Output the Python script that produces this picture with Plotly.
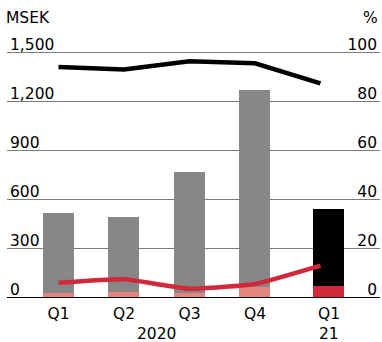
import plotly.graph_objects as go

# Data
bar_x = [0, 1, 2, 3, 4.13]
line_x = [0, 1, 2, 3, 4.0]
upper_vals = [487, 460, 738, 1207, 470]     # MSEK, gray/black part
lower_vals = [25, 30, 25, 60, 67]           # MSEK, pink/red part
black_line = [93.9, 92.9, 96.2, 95.4, 87.2]  # %
red_line = [5.8, 7.2, 3.4, 5.3, 12.8]        # %
tick_text = ["Q1", "Q2", "Q3", "Q4", "Q1"]
y_ticks = [0, 300, 600, 900, 1200, 1500]
y_ticktext = ["0", "300", "600", "900", "1,200", "1,500"]
y2_ticks = [0, 20, 40, 60, 80, 100]

lower_colors = ["#e3847d"] * 4 + ["#d2283c"]
upper_colors = ["#878787"] * 4 + ["#000000"]

FONT = "'DejaVu Sans', sans-serif"
FS = 15.5

# pixel layout: value 0 at y=297, 1500 at y=52
zero_px, top_px = 297, 52
plot_top, plot_bottom = 26, 302
ppu = (zero_px - top_px) / 1500.0
y_max = (zero_px - plot_top) / ppu
y_min = -(plot_bottom - zero_px) / ppu
ppu2 = (zero_px - top_px) / 100.0
y2_max = (zero_px - plot_top) / ppu2
y2_min = -(plot_bottom - zero_px) / ppu2

def py(p):
    return (plot_bottom - p) / (plot_bottom - plot_top)

fig = go.Figure()
fig.add_trace(go.Bar(x=bar_x, y=lower_vals, marker=dict(color=lower_colors, line=dict(width=0)),
                     width=0.473, showlegend=False))
fig.add_trace(go.Bar(x=bar_x, y=upper_vals, marker=dict(color=upper_colors, line=dict(width=0)),
                     width=0.473, showlegend=False))
fig.add_trace(go.Scatter(x=line_x, y=black_line, yaxis="y2", mode="lines",
                         line=dict(color="#000000", width=4.5),
                         showlegend=False))
fig.add_trace(go.Scatter(x=line_x, y=red_line, yaxis="y2", mode="lines",
                         line=dict(color="#d2283c", width=4.5, shape="spline", smoothing=0.4),
                         showlegend=False))

fig.update_layout(
    width=382, height=342,
    margin=dict(l=7, r=2, t=plot_top, b=342 - plot_bottom),
    barmode="stack",
    plot_bgcolor="white", paper_bgcolor="white",
    font=dict(family=FONT, size=FS, color="#000"),
    xaxis=dict(range=[-0.786, 4.909], tickvals=bar_x, ticktext=tick_text,
               showgrid=False, zeroline=False, showline=False, ticks="",
               tickfont=dict(size=FS, color="#000"), ticklabelstandoff=0),
    yaxis=dict(range=[y_min, y_max], tickvals=y_ticks, ticktext=y_ticktext,
               ticklabelposition="inside top", showgrid=True, gridcolor="#7a7a7a",
               gridwidth=1.3, zeroline=True, zerolinecolor="#000", zerolinewidth=1.3,
               showline=False, ticks="", ticklabelstandoff=0, ticklabelshift=3,
               tickfont=dict(color="#000")),
    yaxis2=dict(range=[y2_min, y2_max], tickvals=y2_ticks, overlaying="y", side="right",
                ticklabelposition="inside top", showgrid=False, zeroline=False,
                showline=False, ticks="", ticklabelstandoff=0, ticklabelshift=3,
                tickfont=dict(color="#000")),
    annotations=[
        dict(text="MSEK", x=0, xref="paper", y=py(18), yref="paper", yanchor="middle",
             xanchor="left", showarrow=False, xshift=-3),
        dict(text="%", x=1, xref="paper", y=py(18), yref="paper", xanchor="right",
             yanchor="middle", showarrow=False),
        dict(text="2020", x=1.5, xref="x", y=py(334), yref="paper", yanchor="middle",
             xanchor="center", showarrow=False),
        dict(text="21", x=bar_x[4], xref="x", y=py(334), yref="paper", yanchor="middle",
             xanchor="center", showarrow=False),
    ],
)

fig.write_html("out.html")
